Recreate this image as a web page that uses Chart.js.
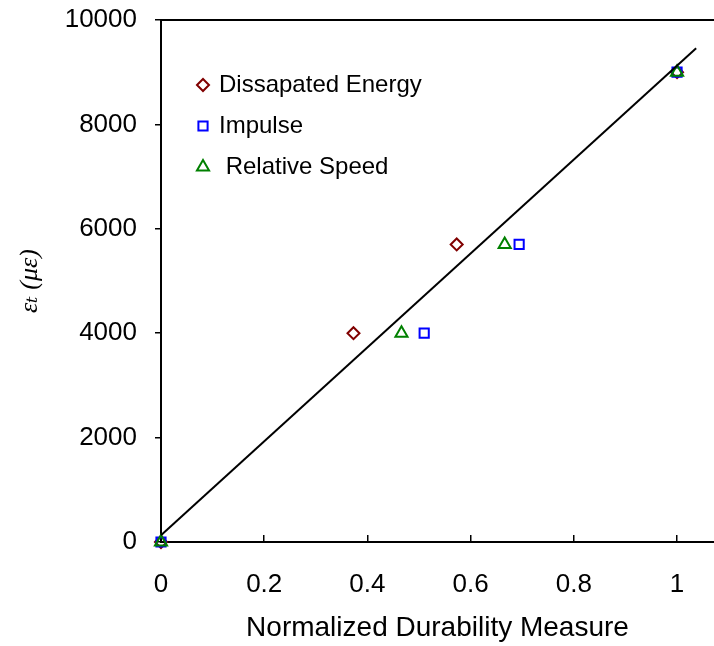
<!DOCTYPE html>
<html>
<head>
<meta charset="utf-8">
<script src="https://cdn.jsdelivr.net/npm/chart.js@4/dist/chart.umd.min.js"></script>
<style>
  html, body { margin: 0; padding: 0; background: #fff; }
  #wrap { width: 714px; height: 646px; }
</style>
</head>
<body>
<div id="wrap"><canvas id="c" width="714" height="646"></canvas></div>
<script>
// Tensile strain vs. normalized durability measures
const seriesNames = ['Dissapated Energy', 'Impulse', ' Relative Speed'];
const strainLevels = [0, 4000, 5700, 9000];
const energyX  = [0, 0.373, 0.573, 1.0];
const impulseX = [0, 0.510, 0.694, 1.0];
const speedX   = [0, 0.466, 0.666, 1.0];
// fitted trend line end points
const fitX = [0, 1.037];
const fitY = [130, 9460];
const xTicks = [0, 0.2, 0.4, 0.6, 0.8, 1];
const yTicks = [0, 2000, 4000, 6000, 8000, 10000];

const toPoints = (xs, ys) => xs.map((x, i) => ({ x: x, y: ys[i] }));

const FONT = "'Liberation Sans', Arial, sans-serif";

// legend drawn inside the plot area, top-left
const innerLegend = {
  id: 'innerLegend',
  afterDatasetsDraw(chart) {
    const ctx = chart.ctx;
    const area = chart.chartArea;
    const x0 = area.left + 42;
    let y = area.top + 65;
    ctx.save();
    ctx.font = '24px ' + FONT;
    ctx.textBaseline = 'middle';
    ctx.textAlign = 'left';
    chart.data.datasets.forEach(ds => {
      if (!ds.inLegend) return;
      ctx.strokeStyle = ds.borderColor;
      ctx.fillStyle = 'rgba(0,0,0,0)';
      ctx.lineWidth = ds.borderWidth;
      Chart.helpers.drawPoint(ctx, {
        pointStyle: ds.pointStyle, radius: ds.pointRadius,
        borderWidth: ds.borderWidth, rotation: 0
      }, x0, y);
      ctx.fillStyle = '#000';
      ctx.fillText(ds.label, x0 + 16, y);
      y += 41;
    });
    ctx.restore();
  }
};

// upper frame line of the plot area
const topFrame = {
  id: 'topFrame',
  afterDraw(chart) {
    const ctx = chart.ctx;
    const a = chart.chartArea;
    ctx.save();
    ctx.strokeStyle = '#000';
    ctx.lineWidth = 2;
    ctx.beginPath();
    ctx.moveTo(a.left, a.top);
    ctx.lineTo(a.right, a.top);
    ctx.stroke();
    ctx.restore();
  }
};

const markerBase = {
  type: 'scatter',
  showLine: false,
  backgroundColor: 'rgba(0,0,0,0)',
  borderWidth: 2,
  clip: false,
  inLegend: true
};

// fixed axis sizes, no extra room reserved for overhanging labels
const fixX = s => { s.height = 104; s.paddingLeft = 0; s.paddingRight = 0; };
const fixY = s => { s.width = 161; s.paddingTop = 0; s.paddingBottom = 0; };

new Chart(document.getElementById('c'), {
  type: 'scatter',
  data: {
    datasets: [
      Object.assign({}, markerBase, {
        label: seriesNames[0], data: toPoints(energyX, strainLevels),
        borderColor: '#800000', pointStyle: 'rectRot', pointRadius: 6, order: 3
      }),
      Object.assign({}, markerBase, {
        label: seriesNames[1], data: toPoints(impulseX, strainLevels),
        borderColor: '#0000FF', pointStyle: 'rect', pointRadius: 6.5, order: 2
      }),
      Object.assign({}, markerBase, {
        label: seriesNames[2], data: toPoints(speedX, strainLevels),
        borderColor: '#008000', pointStyle: 'triangle', pointRadius: 7, order: 1
      }),
      {
        type: 'scatter', label: 'fit', data: toPoints(fitX, fitY),
        showLine: true, borderColor: '#000', borderWidth: 2,
        pointRadius: 0, clip: false, order: 0, inLegend: false
      }
    ]
  },
  options: {
    responsive: false,
    animation: false,
    events: [],
    layout: { autoPadding: false, padding: { top: 20, right: 0, left: 0, bottom: 0 } },
    plugins: { legend: { display: false }, tooltip: { enabled: false } },
    scales: {
      x: {
        type: 'linear', min: 0, max: 1.0716,
        afterBuildTicks: s => { s.ticks = xTicks.map(v => ({ value: v })); },
        afterFit: fixX,
        border: { display: true, color: '#000', width: 2 },
        grid: { drawOnChartArea: false, drawTicks: true, tickLength: -7, color: '#000', lineWidth: 1.5 },
        ticks: {
          color: '#000', font: { family: FONT, size: 26 }, padding: 34,
          maxRotation: 0, autoSkip: false,
          callback: v => String(v)
        },
        title: {
          display: true, text: 'Normalized Durability Measure', color: '#000',
          font: { family: FONT, size: 28 }, padding: { top: 0, bottom: 1 }
        }
      },
      y: {
        type: 'linear', min: 0, max: 10000,
        afterBuildTicks: s => { s.ticks = yTicks.map(v => ({ value: v })); },
        afterFit: fixY,
        border: { display: true, color: '#000', width: 2 },
        grid: { drawOnChartArea: false, drawTicks: true, tickLength: 6, color: '#000', lineWidth: 1.5 },
        ticks: {
          color: '#000', font: { family: FONT, size: 26 }, padding: 18,
          callback: v => String(v)
        },
        title: {
          display: true, text: 'εₜ (με)', color: '#000',
          font: { family: "'Liberation Serif', 'DejaVu Serif', serif", size: 26, style: 'italic' },
          padding: { top: 15, bottom: 0 }
        }
      }
    }
  },
  plugins: [innerLegend, topFrame]
});
</script>
</body>
</html>
